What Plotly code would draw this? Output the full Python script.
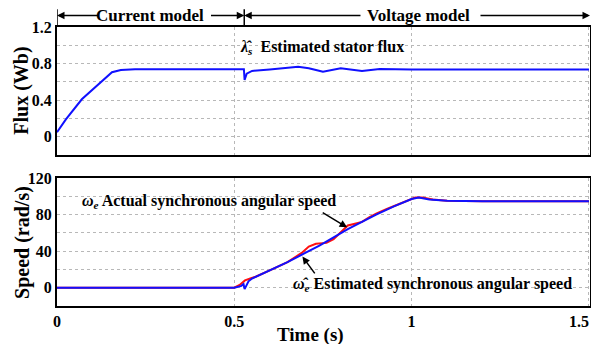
import plotly.graph_objects as go

# ---------------- data ----------------
flux_t = [0, 0.025, 0.07, 0.12, 0.155, 0.18, 0.22, 0.527, 0.529, 0.535, 0.55, 0.6, 0.65, 0.68,
          0.71, 0.75, 0.80, 0.86, 0.91, 0.95, 1.0, 1.5]
flux_v = [0.05, 0.19, 0.41, 0.58, 0.705, 0.73, 0.738, 0.738, 0.62, 0.69, 0.72, 0.735, 0.75, 0.765,
          0.75, 0.71, 0.748, 0.718, 0.74, 0.735, 0.735, 0.735]

act_t = [0, 0.5, 0.515, 0.53, 0.545, 0.56, 0.6, 0.65, 0.69, 0.71, 0.73, 0.76, 0.78, 0.8, 0.82,
         0.84, 0.86, 0.88, 0.9, 0.93, 0.96, 0.99, 1.01, 1.03, 1.06, 1.1, 1.2, 1.5]
act_v = [0, 0, 3, 8, 10, 12, 19, 28, 38, 45, 48, 49, 53, 61, 68, 70, 72, 77, 81, 86, 91, 96,
         98.5, 98.5, 96.5, 95, 94.5, 94.5]

est_t = [0, 0.5, 0.52, 0.526, 0.529, 0.54, 0.55, 0.6, 0.65, 0.7, 0.74, 0.78, 0.82, 0.86, 0.9,
         0.95, 1.0, 1.02, 1.05, 1.1, 1.2, 1.5]
est_v = [0, 0, 2, 4, -1.5, 7, 10, 19, 28, 38, 46, 55, 64, 72, 80, 89, 97, 98.5, 96.5, 95, 94.5, 94.5]

x_ticks = [0, 0.5, 1, 1.5]
x_tick_text = ["0", "0.5", "1", "1.5"]
flux_ticks = [0, 0.4, 0.8, 1.2]
speed_ticks = [0, 40, 80, 120]
switch_t = 0.528

# ---------------- figure ----------------
FONT = "Liberation Serif"
fig = go.Figure()
fig.add_trace(go.Scatter(x=flux_t, y=flux_v, mode="lines", line=dict(color="#1010ff", width=2),
                         xaxis="x", yaxis="y", showlegend=False))
fig.add_trace(go.Scatter(x=act_t, y=act_v, mode="lines", line=dict(color="#ff1010", width=2),
                         xaxis="x2", yaxis="y2", showlegend=False))
fig.add_trace(go.Scatter(x=est_t, y=est_v, mode="lines", line=dict(color="#1010ff", width=2),
                         xaxis="x2", yaxis="y2", showlegend=False))

grid = dict(showgrid=True, gridcolor="#b8b8b8", griddash="dot", gridwidth=1)
frame = dict(showline=True, linecolor="black", linewidth=2, mirror=True, zeroline=False, ticks="",
             automargin=False)
tickfont = dict(family=FONT, size=16, color="black", weight="bold")

top_dom = [0.541, 1.0]
bot_dom = [0.0, 0.459]

# last x tick label is drawn separately, right-aligned to the page edge (as in the reference)
shown_x_text = x_tick_text[:-1] + [""]

fig.update_layout(
    width=591, height=344,
    margin=dict(l=57, r=1, t=27, b=38, autoexpand=False),
    paper_bgcolor="white", plot_bgcolor="white",
    font=dict(family=FONT, color="black"),
    xaxis=dict(domain=[0, 1], anchor="y", range=[0, 1.503], tickvals=x_ticks, showticklabels=False,
               **grid, **frame),
    yaxis=dict(domain=top_dom, anchor="x", range=[-0.2, 1.2], tickvals=flux_ticks,
               ticktext=["0", "0.4", "0.8", "1.2"], tickfont=tickfont,
               minor=dict(dtick=0.2, showgrid=True, gridcolor="#b8b8b8", griddash="dot"),
               **grid, **frame),
    xaxis2=dict(domain=[0, 1], anchor="y2", range=[0, 1.503], tickvals=x_ticks, ticktext=shown_x_text,
                tickfont=tickfont, **grid, **frame),
    yaxis2=dict(domain=bot_dom, anchor="x2", range=[-20, 120], tickvals=speed_ticks, tickfont=tickfont,
                minor=dict(dtick=20, showgrid=True, gridcolor="#b8b8b8", griddash="dot"),
                **grid, **frame),
)

bold = dict(family=FONT, size=16, color="black", weight="bold")
ann = []
ann.append(dict(text="<b>" + x_tick_text[-1] + "</b>", xref="paper", yref="paper", x=1.0015, y=-0.057,
                xanchor="right", yanchor="middle", showarrow=False,
                font=dict(family=FONT, size=16, color="black")))
# axis titles
ann.append(dict(text="<b>Flux (Wb)</b>", xref="paper", yref="paper", x=-0.066, y=0.771,
                xanchor="center", yanchor="middle",
                textangle=-90, showarrow=False, font=dict(family=FONT, size=20, color="black")))
ann.append(dict(text="<b>Speed (rad/s)</b>", xref="paper", yref="paper", x=-0.066, y=0.229,
                xanchor="center", yanchor="middle",
                textangle=-90, showarrow=False, font=dict(family=FONT, size=20, color="black")))
ann.append(dict(text="<b>Time (s)</b>", xref="paper", yref="paper", x=0.475, y=-0.104,
                xanchor="center", yanchor="middle",
                showarrow=False, font=dict(family=FONT, size=19, color="black")))

# mode labels with arrows
ya = 1.041
ann.append(dict(text="<b>Current model</b>", xref="x", yref="paper", x=0.263, y=ya, showarrow=False,
                xanchor="center", font=dict(family=FONT, size=17, color="black"), yanchor="middle"))
ann.append(dict(text="<b>Voltage model</b>", xref="x", yref="paper", x=1.02, y=ya, showarrow=False,
                xanchor="center", font=dict(family=FONT, size=17, color="black"), yanchor="middle"))
arrow = dict(text="", xref="x", yref="paper", axref="x", ayref="pixel", ay=0, showarrow=True,
             arrowhead=2, arrowsize=1, arrowwidth=1.5, arrowcolor="black", standoff=0, startstandoff=0)
ann.append(dict(arrow, x=0.0, y=ya, ax=0.12))
ann.append(dict(arrow, x=switch_t, y=ya, ax=0.43))
ann.append(dict(arrow, x=switch_t, y=ya, ax=0.86))
ann.append(dict(arrow, x=1.503, y=ya, ax=1.19))

# series annotations
ann.append(dict(text="<i>λ&#770;<sub>s</sub></i>  <b>Estimated stator flux</b>", xref="x", yref="y",
                x=0.51, y=0.98, xanchor="left", showarrow=False, font=bold))
ann.append(dict(text="<i>ω<sub>e</sub></i> <b>Actual synchronous angular speed</b>", xref="x2", yref="y2",
                x=0.065, y=94, xanchor="left", showarrow=False, font=bold))
ann.append(dict(text="<i>ω&#770;<sub>e</sub></i> <b>Estimated synchronous angular speed</b>", xref="x2",
                yref="y2", x=0.66, y=3, xanchor="left", showarrow=False, font=bold))
sp_arrow = dict(text="", xref="x2", yref="y2", axref="x2", ayref="y2", showarrow=True, arrowhead=2,
                arrowsize=1, arrowwidth=1.5, arrowcolor="black", standoff=0)
ann.append(dict(sp_arrow, x=0.818, y=66, ax=0.745, ay=83))
ann.append(dict(sp_arrow, x=0.692, y=34, ax=0.73, ay=14))

fig.update_layout(annotations=ann)

# vertical bars marking the mode boundaries
for xv in [0.0, switch_t]:
    fig.add_shape(type="line", xref="x", yref="paper", x0=xv, x1=xv, y0=1.0, y1=1.064,
                  line=dict(color="black", width=1.5))

fig.write_html("out.html")
